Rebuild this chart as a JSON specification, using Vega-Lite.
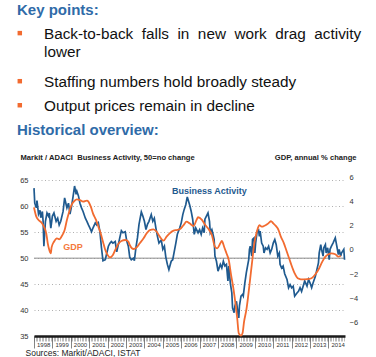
{
  "$schema": "https://vega.github.io/schema/vega-lite/v6.json",
  "padding": {"left": 17, "top": 0, "right": 0, "bottom": 0},
  "bounds": "flush",
  "spacing": 41,
  "config": {"font": "Liberation Sans", "view": {"stroke": null}},
  "datasets": {
    "header": [
      {"row": 0, "level": 0, "kind": "heading", "text": "Key points:"},
      {"row": 1, "level": 1, "kind": "bullet", "text": "Back-to-back \u00a0falls \u00a0in \u00a0new \u00a0work \u00a0drag \u00a0activity\nlower"},
      {"row": 3, "level": 1, "kind": "bullet", "text": "Staffing numbers hold broadly steady"},
      {"row": 4, "level": 1, "kind": "bullet", "text": "Output prices remain in decline"},
      {"row": 5, "level": 0, "kind": "heading", "text": "Historical overview:"}
    ],
    "ba": [
      {"date": "1998-01-01", "value": 63.5}, {"date": "1998-01-16", "value": 60.6}, {"date": "1998-02-16", "value": 59.7},
      {"date": "1998-03-01", "value": 61.1}, {"date": "1998-04-01", "value": 58.5}, {"date": "1998-05-01", "value": 59.2},
      {"date": "1998-05-16", "value": 57.8}, {"date": "1998-06-16", "value": 59.0}, {"date": "1998-07-01", "value": 57.1},
      {"date": "1998-07-16", "value": 52.3}, {"date": "1998-08-16", "value": 57.1}, {"date": "1998-09-16", "value": 58.7},
      {"date": "1998-10-16", "value": 58.1}, {"date": "1998-11-01", "value": 58.7}, {"date": "1998-12-01", "value": 55.8},
      {"date": "1999-01-01", "value": 58.1}, {"date": "1999-02-01", "value": 58.7}, {"date": "1999-03-16", "value": 57.1},
      {"date": "1999-04-16", "value": 57.7}, {"date": "1999-05-16", "value": 56.4}, {"date": "1999-06-16", "value": 57.1},
      {"date": "1999-08-01", "value": 59.0}, {"date": "1999-09-01", "value": 61.6}, {"date": "1999-10-16", "value": 59.7},
      {"date": "1999-11-16", "value": 60.6}, {"date": "1999-12-16", "value": 58.5}, {"date": "2000-01-16", "value": 60.0},
      {"date": "2000-02-16", "value": 61.9}, {"date": "2000-03-16", "value": 63.9}, {"date": "2000-04-16", "value": 62.3},
      {"date": "2000-05-01", "value": 62.9}, {"date": "2000-06-01", "value": 62.0}, {"date": "2000-07-01", "value": 60.6},
      {"date": "2000-08-01", "value": 59.7}, {"date": "2000-09-01", "value": 59.0}, {"date": "2000-10-16", "value": 57.7},
      {"date": "2000-11-16", "value": 57.1}, {"date": "2000-12-16", "value": 56.4}, {"date": "2001-01-16", "value": 55.8},
      {"date": "2001-02-16", "value": 55.1}, {"date": "2001-03-16", "value": 55.8}, {"date": "2001-05-01", "value": 56.8},
      {"date": "2001-06-01", "value": 56.4}, {"date": "2001-07-01", "value": 56.8}, {"date": "2001-08-01", "value": 55.1},
      {"date": "2001-09-01", "value": 52.0}, {"date": "2001-10-01", "value": 49.5}, {"date": "2001-11-16", "value": 49.7},
      {"date": "2001-12-16", "value": 51.0}, {"date": "2002-01-16", "value": 52.3}, {"date": "2002-02-16", "value": 52.9},
      {"date": "2002-03-16", "value": 53.2}, {"date": "2002-04-16", "value": 52.9}, {"date": "2002-06-01", "value": 53.2},
      {"date": "2002-07-01", "value": 51.2}, {"date": "2002-08-01", "value": 52.6}, {"date": "2002-09-01", "value": 54.0},
      {"date": "2002-10-01", "value": 55.3}, {"date": "2002-11-01", "value": 54.9}, {"date": "2002-12-16", "value": 55.1},
      {"date": "2003-01-16", "value": 53.3}, {"date": "2003-02-16", "value": 52.3}, {"date": "2003-03-16", "value": 50.2},
      {"date": "2003-04-16", "value": 49.7}, {"date": "2003-06-01", "value": 50.0}, {"date": "2003-06-16", "value": 49.5},
      {"date": "2003-07-16", "value": 52.0}, {"date": "2003-08-16", "value": 53.9}, {"date": "2003-09-16", "value": 56.5},
      {"date": "2003-11-01", "value": 58.9}, {"date": "2003-12-01", "value": 58.1}, {"date": "2004-01-01", "value": 57.1},
      {"date": "2004-02-01", "value": 55.5}, {"date": "2004-03-01", "value": 56.5}, {"date": "2004-04-01", "value": 57.1},
      {"date": "2004-05-16", "value": 58.4}, {"date": "2004-06-16", "value": 57.1}, {"date": "2004-07-16", "value": 57.7},
      {"date": "2004-08-16", "value": 55.8}, {"date": "2004-09-16", "value": 54.2}, {"date": "2004-10-16", "value": 52.9},
      {"date": "2004-12-01", "value": 53.5}, {"date": "2005-01-01", "value": 51.7}, {"date": "2005-02-01", "value": 52.3},
      {"date": "2005-03-01", "value": 50.2}, {"date": "2005-04-01", "value": 48.8}, {"date": "2005-05-01", "value": 47.8},
      {"date": "2005-06-16", "value": 49.4}, {"date": "2005-07-16", "value": 49.7}, {"date": "2005-08-16", "value": 51.3},
      {"date": "2005-09-16", "value": 52.9}, {"date": "2005-10-16", "value": 54.6}, {"date": "2005-12-01", "value": 55.8},
      {"date": "2006-01-01", "value": 56.8}, {"date": "2006-02-01", "value": 58.4}, {"date": "2006-03-01", "value": 59.4},
      {"date": "2006-04-01", "value": 60.3}, {"date": "2006-05-01", "value": 61.8}, {"date": "2006-06-16", "value": 60.3},
      {"date": "2006-07-16", "value": 59.1}, {"date": "2006-08-16", "value": 57.5}, {"date": "2006-09-16", "value": 54.6},
      {"date": "2006-10-16", "value": 55.8}, {"date": "2006-12-01", "value": 54.9}, {"date": "2007-01-01", "value": 55.5},
      {"date": "2007-02-01", "value": 54.6}, {"date": "2007-03-01", "value": 55.8}, {"date": "2007-04-01", "value": 54.9},
      {"date": "2007-04-16", "value": 57.5}, {"date": "2007-05-16", "value": 58.1}, {"date": "2007-06-16", "value": 58.7},
      {"date": "2007-07-16", "value": 57.1}, {"date": "2007-08-01", "value": 54.9}, {"date": "2007-09-01", "value": 55.5},
      {"date": "2007-09-16", "value": 54.9}, {"date": "2007-10-16", "value": 53.6}, {"date": "2007-11-01", "value": 50.4},
      {"date": "2007-12-01", "value": 49.4}, {"date": "2008-01-01", "value": 47.5}, {"date": "2008-02-16", "value": 48.8},
      {"date": "2008-03-16", "value": 48.1}, {"date": "2008-04-16", "value": 49.4}, {"date": "2008-05-16", "value": 48.5},
      {"date": "2008-06-16", "value": 48.8}, {"date": "2008-07-16", "value": 45.6}, {"date": "2008-08-01", "value": 48.5},
      {"date": "2008-09-01", "value": 45.2}, {"date": "2008-10-01", "value": 43.3}, {"date": "2008-10-16", "value": 40.4},
      {"date": "2008-11-16", "value": 39.5}, {"date": "2008-12-01", "value": 40.8}, {"date": "2009-01-01", "value": 41.7},
      {"date": "2009-02-01", "value": 39.2}, {"date": "2009-02-16", "value": 38.5}, {"date": "2009-03-01", "value": 40.8},
      {"date": "2009-04-01", "value": 42.7}, {"date": "2009-05-01", "value": 43.0}, {"date": "2009-05-16", "value": 42.7},
      {"date": "2009-06-16", "value": 45.2}, {"date": "2009-07-16", "value": 47.2}, {"date": "2009-09-01", "value": 49.7},
      {"date": "2009-09-16", "value": 51.7}, {"date": "2009-10-01", "value": 52.3}, {"date": "2009-11-01", "value": 50.4},
      {"date": "2009-11-16", "value": 53.6}, {"date": "2009-12-16", "value": 53.9}, {"date": "2010-01-01", "value": 51.0},
      {"date": "2010-01-16", "value": 52.9}, {"date": "2010-02-16", "value": 55.2}, {"date": "2010-03-16", "value": 55.4},
      {"date": "2010-04-01", "value": 54.2}, {"date": "2010-04-16", "value": 55.2}, {"date": "2010-05-16", "value": 52.9},
      {"date": "2010-06-16", "value": 52.3}, {"date": "2010-07-01", "value": 51.0}, {"date": "2010-08-01", "value": 52.0},
      {"date": "2010-09-01", "value": 51.7}, {"date": "2010-10-01", "value": 52.3}, {"date": "2010-11-01", "value": 51.0},
      {"date": "2010-12-01", "value": 51.7}, {"date": "2011-01-01", "value": 52.9}, {"date": "2011-02-01", "value": 53.6},
      {"date": "2011-03-01", "value": 52.6}, {"date": "2011-04-01", "value": 50.4}, {"date": "2011-05-01", "value": 51.0},
      {"date": "2011-05-16", "value": 48.8}, {"date": "2011-06-16", "value": 48.1}, {"date": "2011-07-16", "value": 48.5},
      {"date": "2011-08-16", "value": 47.0}, {"date": "2011-10-01", "value": 45.9}, {"date": "2011-11-01", "value": 44.3},
      {"date": "2011-12-01", "value": 44.9}, {"date": "2012-01-01", "value": 44.3}, {"date": "2012-02-01", "value": 44.6},
      {"date": "2012-03-01", "value": 42.7}, {"date": "2012-04-16", "value": 43.3}, {"date": "2012-05-16", "value": 43.6},
      {"date": "2012-06-16", "value": 44.3}, {"date": "2012-07-16", "value": 43.6}, {"date": "2012-08-16", "value": 44.6},
      {"date": "2012-09-16", "value": 45.6}, {"date": "2012-11-01", "value": 44.6}, {"date": "2012-12-01", "value": 45.9},
      {"date": "2013-01-01", "value": 45.2}, {"date": "2013-02-01", "value": 44.3}, {"date": "2013-03-01", "value": 45.2},
      {"date": "2013-04-16", "value": 46.5}, {"date": "2013-05-16", "value": 47.8}, {"date": "2013-06-16", "value": 49.1},
      {"date": "2013-07-01", "value": 51.0}, {"date": "2013-08-01", "value": 52.6}, {"date": "2013-08-16", "value": 51.7},
      {"date": "2013-09-16", "value": 50.4}, {"date": "2013-10-01", "value": 52.0}, {"date": "2013-11-01", "value": 52.6},
      {"date": "2013-11-16", "value": 51.0}, {"date": "2013-12-16", "value": 52.0}, {"date": "2014-01-16", "value": 49.7},
      {"date": "2014-02-01", "value": 51.7}, {"date": "2014-03-01", "value": 52.3}, {"date": "2014-04-01", "value": 52.9},
      {"date": "2014-05-16", "value": 53.9}, {"date": "2014-06-16", "value": 52.3}, {"date": "2014-07-16", "value": 50.7},
      {"date": "2014-08-01", "value": 51.7}, {"date": "2014-09-01", "value": 50.4}, {"date": "2014-09-16", "value": 51.0},
      {"date": "2014-11-01", "value": 51.7}, {"date": "2014-11-16", "value": 49.7}
    ],
    "gdp": [
      {"date": "1998-01-01", "value": 3.5}, {"date": "1998-02-16", "value": 2.74}, {"date": "1998-04-01", "value": 2.47},
      {"date": "1998-06-01", "value": 2.24}, {"date": "1998-07-16", "value": 1.92}, {"date": "1998-09-01", "value": 1.37},
      {"date": "1998-10-01", "value": 0.55}, {"date": "1998-11-01", "value": 0.0}, {"date": "1998-12-01", "value": -0.27},
      {"date": "1998-12-16", "value": 0.22}, {"date": "1999-02-01", "value": 0.68}, {"date": "1999-04-01", "value": 0.96},
      {"date": "1999-05-16", "value": 0.88}, {"date": "1999-07-01", "value": 1.1}, {"date": "1999-09-01", "value": 1.64},
      {"date": "1999-10-16", "value": 2.47}, {"date": "1999-12-01", "value": 3.15}, {"date": "2000-01-16", "value": 3.7},
      {"date": "2000-03-16", "value": 4.05}, {"date": "2000-05-01", "value": 4.16}, {"date": "2000-07-01", "value": 4.1},
      {"date": "2000-09-01", "value": 3.97}, {"date": "2000-11-16", "value": 4.05}, {"date": "2000-12-16", "value": 3.97},
      {"date": "2001-02-01", "value": 3.56}, {"date": "2001-03-16", "value": 3.01}, {"date": "2001-05-16", "value": 2.47},
      {"date": "2001-07-01", "value": 1.92}, {"date": "2001-08-16", "value": 1.37}, {"date": "2001-10-01", "value": 0.68},
      {"date": "2001-11-16", "value": 0.0}, {"date": "2002-01-01", "value": -0.41}, {"date": "2002-02-16", "value": -0.6},
      {"date": "2002-04-16", "value": -0.41}, {"date": "2002-06-01", "value": 0.0}, {"date": "2002-08-01", "value": 0.49},
      {"date": "2002-10-01", "value": 0.74}, {"date": "2002-12-16", "value": 0.82}, {"date": "2003-02-16", "value": 0.68},
      {"date": "2003-03-16", "value": 0.41}, {"date": "2003-06-01", "value": 0.08}, {"date": "2003-08-01", "value": 0.22},
      {"date": "2003-10-01", "value": 0.55}, {"date": "2003-12-16", "value": 0.96}, {"date": "2004-02-16", "value": 1.37},
      {"date": "2004-04-16", "value": 1.64}, {"date": "2004-07-01", "value": 1.7}, {"date": "2004-09-01", "value": 1.5},
      {"date": "2004-11-01", "value": 1.1}, {"date": "2005-01-16", "value": 0.77}, {"date": "2005-03-16", "value": 1.1},
      {"date": "2005-05-16", "value": 1.37}, {"date": "2005-08-01", "value": 1.59}, {"date": "2005-10-01", "value": 1.64},
      {"date": "2005-12-01", "value": 1.7}, {"date": "2006-02-16", "value": 2.05}, {"date": "2006-04-16", "value": 2.33},
      {"date": "2006-06-16", "value": 2.19}, {"date": "2006-09-01", "value": 1.97}, {"date": "2006-11-01", "value": 2.47},
      {"date": "2006-12-01", "value": 2.69}, {"date": "2007-02-16", "value": 2.47}, {"date": "2007-04-16", "value": 2.1},
      {"date": "2007-06-16", "value": 1.78}, {"date": "2007-09-01", "value": 1.23}, {"date": "2007-11-01", "value": 0.27},
      {"date": "2007-12-16", "value": 0.14}, {"date": "2008-02-16", "value": 0.55}, {"date": "2008-03-16", "value": 0.74},
      {"date": "2008-05-01", "value": 0.27}, {"date": "2008-06-16", "value": -0.27}, {"date": "2008-08-01", "value": -0.82},
      {"date": "2008-09-16", "value": -2.05}, {"date": "2008-11-01", "value": -3.15}, {"date": "2008-12-16", "value": -4.52},
      {"date": "2009-01-16", "value": -5.61}, {"date": "2009-02-16", "value": -6.85}, {"date": "2009-04-01", "value": -7.04},
      {"date": "2009-05-01", "value": -6.85}, {"date": "2009-06-01", "value": -5.89}, {"date": "2009-07-16", "value": -4.93},
      {"date": "2009-08-16", "value": -3.97}, {"date": "2009-09-16", "value": -2.88}, {"date": "2009-10-16", "value": -1.78},
      {"date": "2009-11-16", "value": -0.68}, {"date": "2009-12-16", "value": 0.41}, {"date": "2010-02-01", "value": 1.37},
      {"date": "2010-03-01", "value": 1.78}, {"date": "2010-04-01", "value": 2.05}, {"date": "2010-05-16", "value": 1.92},
      {"date": "2010-07-01", "value": 1.97}, {"date": "2010-09-01", "value": 2.11}, {"date": "2010-10-16", "value": 2.27},
      {"date": "2010-11-16", "value": 2.38}, {"date": "2011-01-01", "value": 2.19}, {"date": "2011-02-16", "value": 2.0},
      {"date": "2011-04-16", "value": 1.64}, {"date": "2011-06-01", "value": 1.1}, {"date": "2011-08-01", "value": 0.55},
      {"date": "2011-09-16", "value": 0.0}, {"date": "2011-11-01", "value": -0.55}, {"date": "2011-12-16", "value": -1.1},
      {"date": "2012-02-01", "value": -1.64}, {"date": "2012-03-01", "value": -1.92}, {"date": "2012-05-01", "value": -2.33},
      {"date": "2012-07-01", "value": -2.41}, {"date": "2012-09-16", "value": -2.41}, {"date": "2012-12-16", "value": -2.38},
      {"date": "2013-02-16", "value": -2.27}, {"date": "2013-04-16", "value": -2.0}, {"date": "2013-07-01", "value": -1.5},
      {"date": "2013-09-01", "value": -0.96}, {"date": "2013-11-01", "value": -0.55}, {"date": "2014-01-01", "value": -0.35},
      {"date": "2014-03-01", "value": -0.27}, {"date": "2014-05-16", "value": -0.35}, {"date": "2014-07-16", "value": -0.55},
      {"date": "2014-09-01", "value": -0.47}
    ]
  },
  "vconcat": [
    {
      "width": 311,
      "height": 136,
      "data": {"name": "header"},
      "layer": [
        {
          "transform": [{"filter": "datum.kind == 'heading'"}],
          "mark": {"type": "text", "align": "left", "baseline": "alphabetic", "fontSize": 15, "fontWeight": "bold", "color": "#2f6ba8"},
          "encoding": {
            "x": {"field": "level", "type": "quantitative", "scale": {"domain": [0.6296, 12.148], "nice": false, "zero": false}, "axis": null},
            "y": {"field": "row", "type": "quantitative", "scale": {"domain": [-0.627, 5.03], "reverse": true, "nice": false, "zero": false}, "axis": null},
            "text": {"field": "text"}
          }
        },
        {
          "transform": [{"filter": "datum.kind == 'bullet'"}],
          "mark": {"type": "point", "shape": "square", "filled": true, "size": 20, "color": "#f26b30", "opacity": 1, "xOffset": 2.8, "yOffset": -6},
          "encoding": {
            "x": {"datum": 0, "type": "quantitative", "scale": {"domain": [0.6296, 12.148], "nice": false, "zero": false}, "axis": null},
            "y": {"field": "row", "type": "quantitative", "scale": {"domain": [-0.627, 5.03], "reverse": true, "nice": false, "zero": false}, "axis": null}
          }
        },
        {
          "transform": [{"filter": "datum.kind == 'bullet'"}],
          "mark": {"type": "text", "align": "left", "baseline": "alphabetic", "fontSize": 15.3, "color": "#111111", "lineBreak": "\n", "lineHeight": 18},
          "encoding": {
            "x": {"field": "level", "type": "quantitative", "scale": {"domain": [0.6296, 12.148], "nice": false, "zero": false}, "axis": null},
            "y": {"field": "row", "type": "quantitative", "scale": {"domain": [-0.627, 5.03], "reverse": true, "nice": false, "zero": false}, "axis": null},
            "text": {"field": "text"}
          }
        }
      ]
    },
    {
      "width": 311,
      "height": 159,
      "resolve": {"scale": {"y": "independent"}, "axis": {"y": "independent", "x": "independent"}},
      "layer": [
        {
          "data": {"values": [{"noChange": 50}]},
          "mark": {"type": "rule", "color": "#8c8c8c", "strokeWidth": 1},
          "encoding": {
            "y": {"field": "noChange", "type": "quantitative", "scale": {"domain": [35, 65.64], "nice": false, "zero": false}, "axis": null}
          }
        },
        {
          "data": {"name": "ba"},
          "mark": {"type": "line", "color": "#1f5a8f", "strokeWidth": 1.7},
          "encoding": {
            "x": {
              "field": "date", "type": "temporal",
              "scale": {"domain": [{"year": 1998, "month": 1, "date": 1}, {"year": 2014, "month": 11, "date": 25}]},
              "axis": {
                "orient": "bottom",
                "tickCount": 200,
                "labels": false,
                "tickSize": 5,
                "tickColor": "#aaaaaa",
                "tickWidth": 0.8,
                "domain": false,
                "grid": false,
                "title": "Sources: Markit/ADACI, ISTAT",
                "titleX": -9,
                "titleY": 12.5,
                "titleAlign": "left",
                "titleBaseline": "top",
                "titleFontSize": 8.5,
                "titleFontWeight": "normal",
                "titleColor": "#222222"
              }
            },
            "y": {
              "field": "value", "type": "quantitative",
              "scale": {"domain": [35, 65.64], "nice": false, "zero": false},
              "axis": {
                "orient": "left",
                "values": [35, 40, 45, 50, 55, 60, 65],
                "grid": true,
                "gridColor": "#b0b0b0",
                "gridDash": [1, 2.5],
                "gridWidth": 1,
                "ticks": false,
                "domain": false,
                "labelFontSize": 7.5,
                "labelColor": "#333333",
                "labelPadding": 6,
                "title": "Markit / ADACI\u00a0 Business Activity, 50=no change",
                "titleAngle": 0,
                "titleAlign": "left",
                "titleBaseline": "alphabetic",
                "titleX": -14,
                "titleY": -18,
                "titleFontSize": 7.6,
                "titleFontWeight": "bold",
                "titleColor": "#222222"
              }
            }
          }
        },
        {
          "data": {"name": "gdp"},
          "mark": {"type": "line", "color": "#f26b30", "strokeWidth": 1.8, "interpolate": "monotone"},
          "encoding": {
            "x": {
              "field": "date", "type": "temporal",
              "scale": {"domain": [{"year": 1998, "month": 1, "date": 1}, {"year": 2014, "month": 11, "date": 25}]},
              "axis": {
                "orient": "bottom",
                "tickCount": 17,
                "format": "%Y",
                "labelOffset": 9.2,
                "labelAlign": "center",
                "labelBaseline": "top",
                "labelPadding": -7,
                "labelFontSize": 6,
                "labelColor": "#333333",
                "labelOverlap": false,
                "labelFlush": false,
                "labelBound": false,
                "tickSize": 12,
                "tickColor": "#666666",
                "tickWidth": 0.8,
                "domainColor": "#1a1a1a",
                "domainWidth": 2.5,
                "grid": false,
                "title": null
              }
            },
            "y": {
              "field": "value", "type": "quantitative",
              "scale": {"domain": [-7.07, 6], "nice": false, "zero": false},
              "axis": {
                "orient": "right",
                "values": [-6, -4, -2, 0, 2, 4, 6],
                "grid": false,
                "ticks": false,
                "domain": false,
                "labelFontSize": 7.5,
                "labelColor": "#333333",
                "labelPadding": 4,
                "title": "GDP, annual % change",
                "titleAngle": 0,
                "titleAlign": "right",
                "titleBaseline": "alphabetic",
                "titleX": 11,
                "titleY": -18,
                "titleFontSize": 7.6,
                "titleFontWeight": "bold",
                "titleColor": "#222222"
              }
            }
          }
        },
        {
          "data": {"values": [{"series": "Business Activity"}]},
          "mark": {"type": "text", "align": "left", "baseline": "middle", "fontSize": 9, "fontWeight": "bold", "color": "#1f5a8f"},
          "encoding": {
            "x": {"datum": {"year": 2005, "month": 7, "date": 1}, "type": "temporal", "scale": {"domain": [{"year": 1998, "month": 1, "date": 1}, {"year": 2014, "month": 11, "date": 25}]}, "axis": null},
            "y": {"datum": 63.0, "type": "quantitative", "scale": {"domain": [35, 65.64], "nice": false, "zero": false}, "axis": null},
            "text": {"field": "series"}
          }
        },
        {
          "data": {"values": [{"series": "GDP"}]},
          "mark": {"type": "text", "align": "center", "baseline": "middle", "fontSize": 9, "fontWeight": "bold", "color": "#f47a3c"},
          "encoding": {
            "x": {"datum": {"year": 2000, "month": 2, "date": 13}, "type": "temporal", "scale": {"domain": [{"year": 1998, "month": 1, "date": 1}, {"year": 2014, "month": 11, "date": 25}]}, "axis": null},
            "y": {"datum": 0.25, "type": "quantitative", "scale": {"domain": [-7.07, 6], "nice": false, "zero": false}, "axis": null},
            "text": {"field": "series"}
          }
        }
      ]
    }
  ]
}
